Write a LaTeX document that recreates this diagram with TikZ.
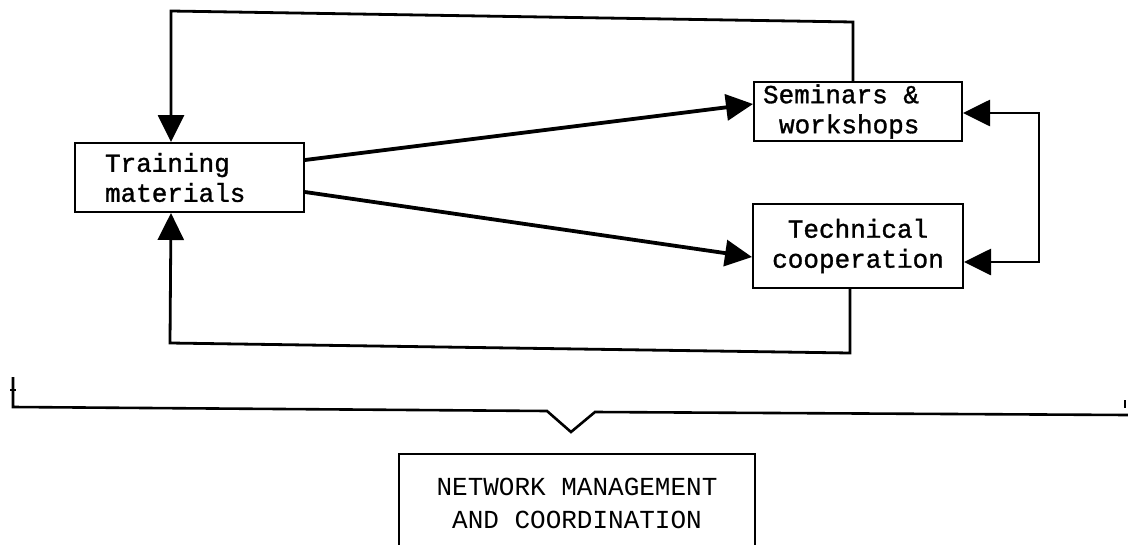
\documentclass[tikz,border=0pt]{standalone}
\usepackage{fontspec}
\newfontfamily\tw[FakeBold=1.2]{Liberation Mono}
\newfontfamily\twn{Liberation Mono}
\usetikzlibrary{arrows.meta}
\begin{document}
\begin{tikzpicture}[x=1pt,y=-1pt,
  box/.style={draw, line width=2pt, inner sep=0pt, font=\tw\fontsize{26}{30}\selectfont, align=center},
  conn/.style={line width=2.8pt, line join=miter},
  tip/.style={-{Triangle[length=27pt,width=26pt]}},
  bitip/.style={{Triangle[length=27pt,width=26pt]}-{Triangle[length=27pt,width=26pt]}},
  thick arrow/.style={line width=3.8pt, -{Triangle[length=27pt,width=26pt]}},
  ntext/.style={font=\twn\fontsize{26}{33}\selectfont, align=center, inner sep=0pt}]
\useasboundingbox (0,0) rectangle (1128,544);
\node[box, minimum width=229pt, minimum height=69pt, text width=169pt, inner xsep=30pt, align=left] (tm) at (189.5,177.5) {Training\\materials};
\node[box, minimum width=208pt, minimum height=59pt, text width=190pt, inner xsep=9pt, align=left] (sem) at (858,111.5) {Seminars\hspace*{15.6pt}\&\\\hspace*{16pt}workshops};
\node[box, minimum width=210pt, minimum height=84pt] (tech) at (858,246) {Technical\\cooperation};
% diagonal arrows
\draw[thick arrow] ([yshift=17.5pt]tm.east) -- ([yshift=7.5pt]sem.west);
\draw[thick arrow] ([yshift=-14.5pt]tm.east) -- ([yshift=-11pt]tech.west);
% top loop
\coordinate (t1) at (853,22);
\coordinate (t2) at (171,11);
\draw[conn, tip] ([xshift=-5pt]sem.north) -- (t1) -- (t2) -- ([xshift=-18.5pt]tm.north);
% bottom loop
\coordinate (b1) at (850,353);
\coordinate (b2) at (170,343);
\draw[conn, tip] ([xshift=-8pt]tech.south) -- (b1) -- (b2) -- ([xshift=-18.5pt]tm.south);
% right loop
\coordinate (r1) at (1039,113);
\coordinate (r2) at (1039,262);
\draw[conn, bitip] ([yshift=-1.5pt]sem.east) -- (r1) -- (r2) -- ([yshift=-16pt]tech.east);
% brace
\coordinate (br0) at (13,377);
\coordinate (br1) at (13,407);
\coordinate (br2) at (547,411);
\coordinate (brv) at (571,432);
\coordinate (br3) at (595,412);
\coordinate (br4) at (1128,415);
\draw[line width=2.6pt, line join=miter] (br0) -- (br1) -- (br2) -- (brv) -- (br3) -- (br4);
\coordinate (lt0) at (10,390);
\coordinate (lt1) at (16,390);
\draw[line width=1.5pt] (lt0) -- (lt1);
\coordinate (rt0) at (1125,400);
\coordinate (rt1) at (1125,408);
\draw[line width=1.5pt] (rt0) -- (rt1);
% network box
\node[ntext] (net) at (577,503) {NETWORK MANAGEMENT\\AND COORDINATION};
\coordinate (n1) at (399,550);
\coordinate (n2) at (399,454);
\coordinate (n3) at (755,454);
\coordinate (n4) at (755,550);
\draw[line width=2pt] (n1) -- (n2) -- (n3) -- (n4);
\end{tikzpicture}
\end{document}
